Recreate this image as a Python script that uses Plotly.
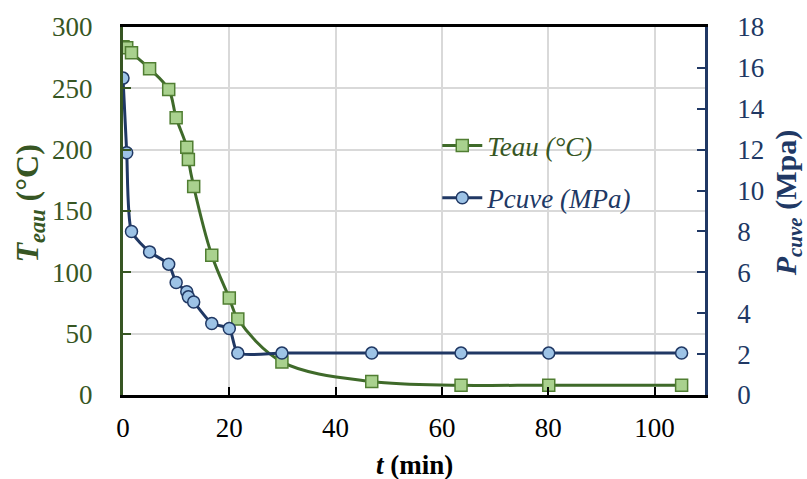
import plotly.graph_objects as go

# ---- data ----
t_min = [0, 0.7, 1.6, 5.0, 8.6, 10.0, 12.0, 12.3, 13.3, 16.7, 20.0, 21.6, 29.9, 46.8, 63.6, 80.1, 105.1]
t_eau = [284, 283, 279, 266, 249, 226, 202, 192, 170, 114, 79, 62, 27, 11, 8, 8, 8]
p_cuve = [15.5, 11.85, 8.0, 7.0, 6.4, 5.5, 5.05, 4.8, 4.55, 3.5, 3.25, 2.05, 2.05, 2.05, 2.05, 2.05, 2.05]

x_ticks = [0, 20, 40, 60, 80, 100]
y1_ticks = [0, 50, 100, 150, 200, 250, 300]
y2_ticks = [0, 2, 4, 6, 8, 10, 12, 14, 16, 18]

name_t = "Teau (°C)"
name_p = "Pcuve (MPa)"

# ---- styles ----
GREEN = "#375623"
GREEN_LINE = "#3f6a2a"
GREEN_FILL = "#a9d18e"
GREEN_EDGE = "#507e32"
NAVY = "#203864"
BLUE_FILL = "#9dc3e6"
GRID = "#d9d9d9"
FONT = "Liberation Serif"

fig = go.Figure()
fig.add_trace(go.Scatter(
    x=t_min, y=t_eau, name="<i>" + name_t + "</i>", mode="lines+markers",
    line=dict(color=GREEN_LINE, width=3, shape="spline", smoothing=1),
    marker=dict(symbol="square", size=12, color=GREEN_FILL, line=dict(color=GREEN_EDGE, width=1.5)),
    legend="legend",
))
fig.add_trace(go.Scatter(
    x=t_min, y=p_cuve, name="<i>" + name_p + "</i>", mode="lines+markers", yaxis="y2",
    line=dict(color=NAVY, width=3, shape="spline", smoothing=0.6),
    marker=dict(symbol="circle", size=12, color=BLUE_FILL, line=dict(color=NAVY, width=1.5)),
    legend="legend2",
))

fig.update_layout(
    width=807, height=479,
    margin=dict(l=123, r=102, t=23, b=84),
    paper_bgcolor="white", plot_bgcolor="white",
    font=dict(family=FONT, size=27, color="black"),
    xaxis=dict(
        range=[0, 109.5], tickvals=x_ticks, ticks="inside", ticklen=8, tickwidth=2, tickcolor="black",
        showline=True, linecolor="black", linewidth=2.5, mirror=True,
        showgrid=True, gridcolor=GRID, gridwidth=1.5, zeroline=False,
        tickfont=dict(family=FONT, size=27, color="black"), ticklabelstandoff=7,
    ),
    yaxis=dict(
        range=[0, 300], tickvals=y1_ticks, ticks="inside", ticklen=8, tickwidth=2, tickcolor=GREEN,
        showline=True, linecolor=GREEN, linewidth=3,
        showgrid=True, gridcolor=GRID, gridwidth=1.5, zeroline=False,
        tickfont=dict(family=FONT, size=27, color=GREEN), ticklabelstandoff=22,
    ),
    yaxis2=dict(
        range=[0, 18], tickvals=y2_ticks, ticks="inside", ticklen=8, tickwidth=2, tickcolor=NAVY,
        showline=True, linecolor=NAVY, linewidth=2.5, overlaying="y", side="right",
        showgrid=False, zeroline=False,
        tickfont=dict(family=FONT, size=27, color=NAVY), ticklabelstandoff=24,
    ),
    legend=dict(x=0.54, y=0.677, xanchor="left", yanchor="middle", bgcolor="rgba(0,0,0,0)",
                font=dict(family=FONT, size=27, color=GREEN), itemwidth=40),
    legend2=dict(x=0.54, y=0.535, xanchor="left", yanchor="middle", bgcolor="rgba(0,0,0,0)",
                 font=dict(family=FONT, size=27, color=NAVY), itemwidth=40),
    showlegend=True,
)

fig.add_annotation(text="<b><i>T</i><sub><i>eau</i></sub> (°C)</b>", xref="paper", yref="paper",
                   x=-0.16, y=0.52, xanchor="center", yanchor="middle", textangle=-90,
                   showarrow=False, font=dict(family=FONT, size=32, color=GREEN))
fig.add_annotation(text="<b><i>P</i><sub><i>cuve</i></sub> (Mpa)</b>", xref="paper", yref="paper",
                   x=1.142, y=0.52, xanchor="center", yanchor="middle", textangle=-90,
                   showarrow=False, font=dict(family=FONT, size=30, color=NAVY))
fig.add_annotation(text="<b><i>t</i> (min)</b>", xref="paper", yref="paper",
                   x=0.5, y=-0.19, xanchor="center", yanchor="middle",
                   showarrow=False, font=dict(family=FONT, size=27, color="black"))

fig.write_html("out.html")
